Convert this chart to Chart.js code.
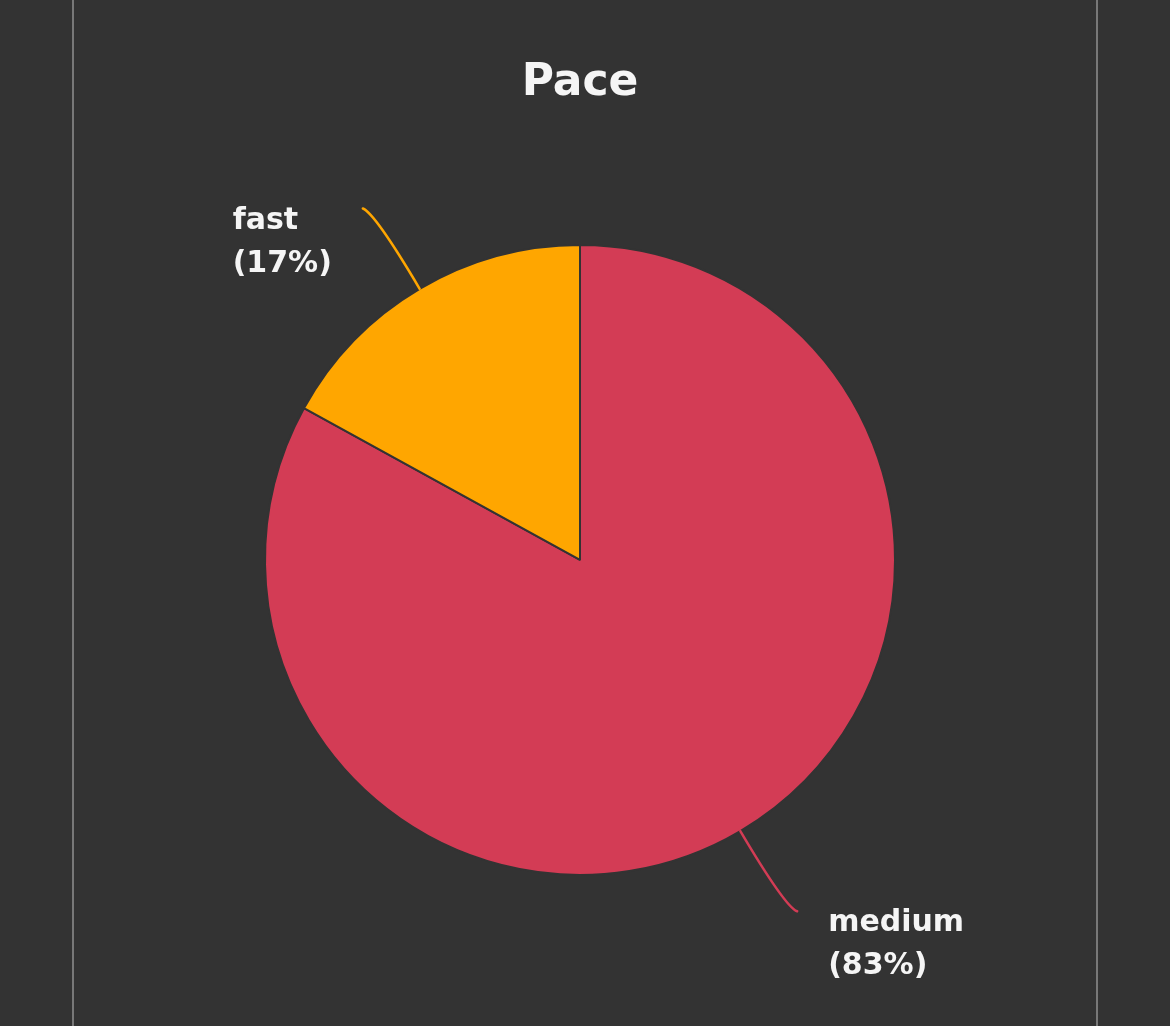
<!DOCTYPE html>
<html>
<head>
<meta charset="utf-8">
<script src="https://cdn.jsdelivr.net/npm/chart.js@4.4.0/dist/chart.umd.min.js"></script>
<style>
  html, body { margin: 0; padding: 0; background: #333333; }
  body { width: 1170px; height: 1026px; position: relative; overflow: hidden; }
  .frame { position: absolute; left: 72px; top: 0; width: 1022px; height: 1026px;
           border-left: 2px solid #787878; border-right: 2px solid #787878; }
  #wrap { position: absolute; left: 0; top: 0; width: 1170px; height: 1026px; }
</style>
</head>
<body>
<div class="frame"></div>
<div id="wrap"><canvas id="c" width="1170" height="1026"></canvas></div>
<script>
const titleText = "Pace";
const categories = ["medium", "fast"];
const values = [83, 17];
const colors = ["#D33C55", "#FFA600"];

const FONT = "'DejaVu Sans', sans-serif";

const leaderPlugin = {
  id: 'leaderLabels',
  afterDatasetsDraw(chart) {
    const ctx = chart.ctx;
    const meta = chart.getDatasetMeta(0);
    const total = values.reduce((a, b) => a + b, 0);
    meta.data.forEach((arc, i) => {
      const mid = (arc.startAngle + arc.endAngle) / 2;
      const r = arc.outerRadius;
      const cx = arc.x, cy = arc.y;
      const cos = Math.cos(mid), sin = Math.sin(mid);
      const sx = cx + cos * r, sy = cy + sin * r;
      const qx = cx + cos * (r + 88), qy = cy + sin * (r + 88);
      const right = cos >= 0;
      const ex = qx + (right ? 12 : -12), ey = qy + (sin >= 0 ? 4.5 : -4.5);
      ctx.save();
      ctx.strokeStyle = colors[i];
      ctx.lineWidth = 2.5;
      ctx.lineCap = 'round';
      ctx.beginPath();
      ctx.moveTo(sx, sy);
      ctx.quadraticCurveTo(qx, qy, ex, ey);
      ctx.stroke();
      const pct = Math.round(values[i] / total * 100);
      const lines = [categories[i], "(" + pct + "%)"];
      ctx.font = "bold 30px " + FONT;
      ctx.fillStyle = "#F5F5F5";
      ctx.textBaseline = 'alphabetic';
      ctx.textAlign = 'left';
      const w = Math.max(...lines.map(l => ctx.measureText(l).width));
      const tx = right ? ex + 31 : ex - 31 - w;
      lines.forEach((l, k) => ctx.fillText(l, tx, ey + 20 + k * 43));
      ctx.restore();
    });
  }
};

new Chart(document.getElementById('c'), {
  type: 'pie',
  data: {
    labels: categories,
    datasets: [{
      data: values,
      backgroundColor: colors,
      borderColor: "#333333",
      borderWidth: 2
    }]
  },
  options: {
    responsive: false,
    animation: false,
    radius: 315,
    layout: { padding: { left: 0, right: 10, top: 0, bottom: 35 } },
    plugins: {
      legend: { display: false },
      tooltip: { enabled: false },
      title: {
        display: true,
        text: titleText,
        color: "#F5F5F5",
        font: { family: FONT, size: 44, weight: 'bold', lineHeight: 1.2 },
        padding: { top: 57, bottom: 19 }
      }
    }
  },
  plugins: [leaderPlugin]
});
</script>
</body>
</html>
